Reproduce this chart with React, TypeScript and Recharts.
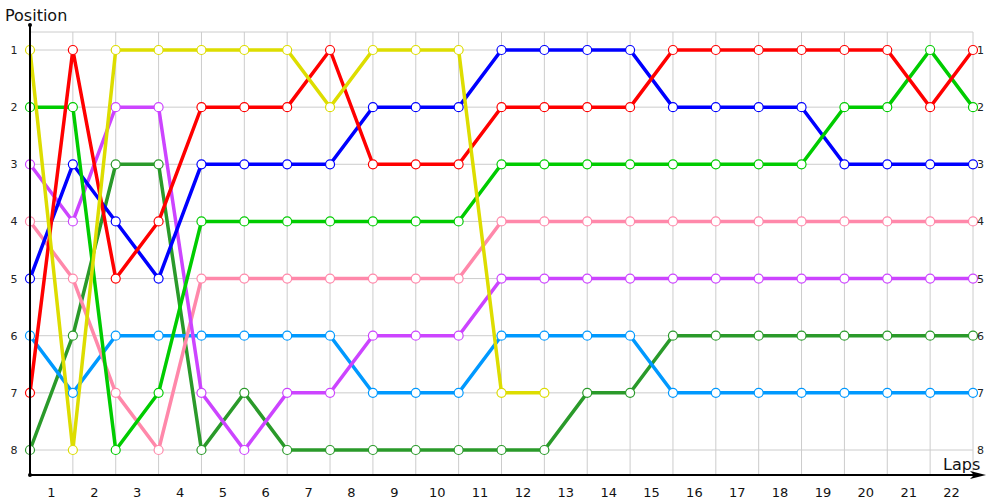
import { LineChart, Line, XAxis, YAxis, CartesianGrid } from 'recharts'

// x positions of the timing points (0 = start, then one per lap)
const POINTS = [0, 1, 2, 3, 4, 5, 6, 7, 8, 9, 10, 11, 12, 13, 14, 15, 16, 17, 18, 19, 20, 21, 22]
const LAP_LABELS = ['1', '2', '3', '4', '5', '6', '7', '8', '9', '10', '11', '12', '13', '14', '15', '16', '17', '18', '19', '20', '21', '22']
const POSITIONS = [1, 2, 3, 4, 5, 6, 7, 8]

const yellow = [1, 8, 1, 1, 1, 1, 1, 2, 1, 1, 1, 7, 7, null, null, null, null, null, null, null, null, null, null]
const red = [7, 1, 5, 4, 2, 2, 2, 1, 3, 3, 3, 2, 2, 2, 2, 1, 1, 1, 1, 1, 1, 2, 1]
const green = [2, 2, 8, 7, 4, 4, 4, 4, 4, 4, 4, 3, 3, 3, 3, 3, 3, 3, 3, 2, 2, 1, 2]
const blue = [5, 3, 4, 5, 3, 3, 3, 3, 2, 2, 2, 1, 1, 1, 1, 2, 2, 2, 2, 3, 3, 3, 3]
const purple = [3, 4, 2, 2, 7, 8, 7, 7, 6, 6, 6, 5, 5, 5, 5, 5, 5, 5, 5, 5, 5, 5, 5]
const pink = [4, 5, 7, 8, 5, 5, 5, 5, 5, 5, 5, 4, 4, 4, 4, 4, 4, 4, 4, 4, 4, 4, 4]
const lightBlue = [6, 7, 6, 6, 6, 6, 6, 6, 7, 7, 7, 6, 6, 6, 6, 7, 7, 7, 7, 7, 7, 7, 7]
const darkGreen = [8, 6, 3, 3, 8, 7, 8, 8, 8, 8, 8, 8, 8, 7, 7, 6, 6, 6, 6, 6, 6, 6, 6]

const SERIES = [
  { key: 'darkGreen', values: darkGreen, color: '#2a9a2a' },
  { key: 'lightBlue', values: lightBlue, color: '#0099ff' },
  { key: 'pink', values: pink, color: '#ff88aa' },
  { key: 'purple', values: purple, color: '#cc44ff' },
  { key: 'blue', values: blue, color: '#0000ff' },
  { key: 'green', values: green, color: '#00cc00' },
  { key: 'red', values: red, color: '#ff0000' },
  { key: 'yellow', values: yellow, color: '#dddd00' },
]

const data = POINTS.map((p, i) => {
  const row: Record<string, number | null> = { x: p }
  SERIES.forEach((s) => {
    row[s.key] = s.values[i]
  })
  return row
})

const W = 1000
const H = 500
const LEFT = 30
const RIGHT = 973
const TOP = 32
const BOTTOM = 475
const HALF_STEP = (RIGHT - LEFT) / (POINTS.length - 1) / 2
const FONT = 'Tahoma, "DejaVu Sans", sans-serif'

function LapTick(props: any) {
  const { x, y, payload } = props
  const label = LAP_LABELS[payload.value]
  if (label === undefined) return null
  return (
    <text x={x + HALF_STEP} y={y + 14} textAnchor="middle" fontSize={13} fill="#111" fontFamily={FONT}>
      {label}
    </text>
  )
}

function LeftTick(props: any) {
  const { y, payload } = props
  return (
    <text x={14} y={y + 4} textAnchor="middle" fontSize={11} fill="#222" fontFamily={FONT}>
      {payload.value}
    </text>
  )
}

function RightTick(props: any) {
  const { y, payload } = props
  return (
    <text x={977} y={y + 4} textAnchor="start" fontSize={11} fill="#222" fontFamily={FONT}>
      {payload.value}
    </text>
  )
}

export default function App() {
  return (
    <div style={{ position: 'absolute', left: 0, top: 0, width: W, height: H, background: '#fff' }}>
      <LineChart
        width={W}
        height={H}
        data={data}
        margin={{ top: TOP, left: 0, right: 0, bottom: 0 }}
      >
        <CartesianGrid stroke="#cccccc" strokeWidth={1} yAxisId="left" />
        <XAxis
          dataKey="x"
          type="number"
          domain={[0, 22]}
          ticks={POINTS}
          height={H - BOTTOM}
          axisLine={false}
          tickLine={false}
          tick={<LapTick />}
          interval={0}
        />
        <YAxis
          yAxisId="left"
          type="number"
          domain={[0.685, 8.4375]}
          reversed
          ticks={POSITIONS}
          width={LEFT}
          axisLine={false}
          tickLine={false}
          tick={<LeftTick />}
          interval={0}
          allowDataOverflow
        />
        <YAxis
          yAxisId="right"
          orientation="right"
          type="number"
          domain={[0.685, 8.4375]}
          reversed
          ticks={POSITIONS}
          width={W - RIGHT}
          axisLine={false}
          tickLine={false}
          tick={<RightTick />}
          interval={0}
          allowDataOverflow
        />
        {SERIES.map((s) => (
          <Line
            key={s.key}
            yAxisId="left"
            type="linear"
            dataKey={s.key}
            stroke={s.color}
            strokeWidth={3.5}
            dot={{ r: 4.5, fill: '#fff', stroke: s.color, strokeWidth: 1.2 }}
            activeDot={false}
            isAnimationActive={false}
          />
        ))}
      </LineChart>
      <svg
        width={W}
        height={H}
        style={{ position: 'absolute', left: 0, top: 0, pointerEvents: 'none' }}
      >
        <line x1={LEFT} y1={25} x2={LEFT} y2={BOTTOM} stroke="#000" strokeWidth={2} />
        <circle cx={LEFT} cy={25} r={2} fill="#000" />
        <circle cx={LEFT} cy={BOTTOM} r={2} fill="#000" />
        <line x1={LEFT} y1={BOTTOM} x2={978} y2={BOTTOM} stroke="#000" strokeWidth={2} />
        <path d={`M 986 ${BOTTOM} L 970 ${BOTTOM - 4} L 974 ${BOTTOM} L 970 ${BOTTOM + 4} Z`} fill="#000" />
        <text x={5} y={21} fontSize={16} fill="#111" fontFamily={FONT}>
          Position
        </text>
        <text x={943} y={470} fontSize={16} fill="#111" fontFamily={FONT}>
          Laps
        </text>
      </svg>
    </div>
  )
}
